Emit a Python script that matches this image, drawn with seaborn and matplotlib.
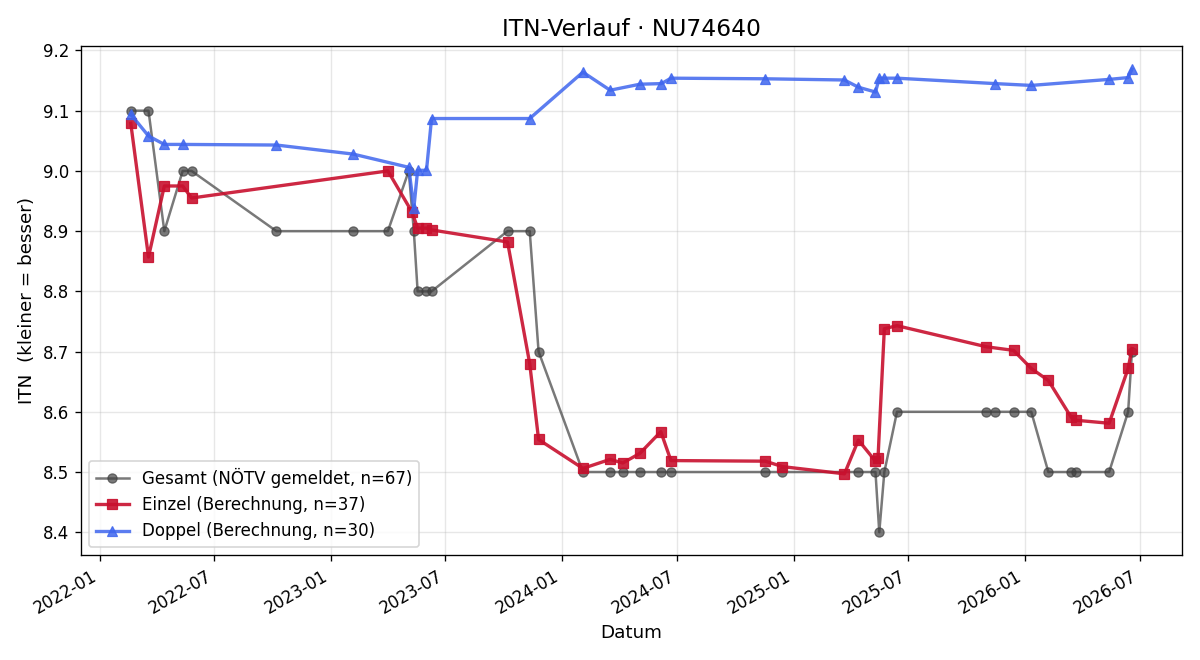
import pandas as pd
import seaborn as sns
import matplotlib.pyplot as plt
import matplotlib.dates as mdates

# Gesamt (NÖTV gemeldet)
gesamt_dates = ["2022-02-19", "2022-03-19", "2022-04-13", "2022-05-12", "2022-05-26",
                "2022-10-07", "2023-02-05", "2023-04-01", "2023-05-04", "2023-05-12",
                "2023-05-18", "2023-06-01", "2023-06-09", "2023-10-07", "2023-11-11",
                "2023-11-25", "2024-02-03", "2024-03-17", "2024-04-06", "2024-05-03",
                "2024-06-06", "2024-06-21", "2024-11-17", "2024-12-14", "2025-04-13",
                "2025-05-10", "2025-05-16", "2025-05-24", "2025-06-13", "2025-11-01",
                "2025-11-15", "2025-12-14", "2026-01-11", "2026-02-07", "2026-03-15",
                "2026-03-22", "2026-05-14", "2026-06-13", "2026-06-19"]
gesamt_itn = [9.1, 9.1, 8.9, 9.0, 9.0,
              8.9, 8.9, 8.9, 9.0, 8.9,
              8.8, 8.8, 8.8, 8.9, 8.9,
              8.7, 8.5, 8.5, 8.5, 8.5,
              8.5, 8.5, 8.5, 8.5, 8.5,
              8.5, 8.4, 8.5, 8.6, 8.6,
              8.6, 8.6, 8.6, 8.5, 8.5,
              8.5, 8.5, 8.6, 8.7]

# Einzel (Berechnung)
einzel_dates = ["2022-02-19", "2022-03-19", "2022-04-13", "2022-05-12", "2022-05-26",
                "2023-04-01", "2023-05-09", "2023-05-18", "2023-06-01", "2023-06-09",
                "2023-10-07", "2023-11-11", "2023-11-25", "2024-02-03", "2024-03-17",
                "2024-04-06", "2024-05-03", "2024-06-05", "2024-06-21", "2024-11-17",
                "2024-12-14", "2025-03-22", "2025-04-13", "2025-05-10", "2025-05-14",
                "2025-05-24", "2025-06-13", "2025-11-01", "2025-12-14", "2026-01-11",
                "2026-02-07", "2026-03-15", "2026-03-22", "2026-05-14", "2026-06-13",
                "2026-06-19"]
einzel_itn = [9.079, 8.857, 8.975, 8.975, 8.955,
              9.000, 8.932, 8.905, 8.905, 8.902,
              8.882, 8.680, 8.554, 8.506, 8.521,
              8.515, 8.531, 8.567, 8.519, 8.518,
              8.509, 8.497, 8.553, 8.518, 8.523,
              8.738, 8.743, 8.708, 8.702, 8.672,
              8.652, 8.591, 8.586, 8.581, 8.672,
              8.705]

# Doppel (Berechnung)
doppel_dates = ["2022-02-19", "2022-03-19", "2022-04-13", "2022-05-12", "2022-10-07",
                "2023-02-05", "2023-05-04", "2023-05-12", "2023-05-18", "2023-06-01",
                "2023-06-09", "2023-11-11", "2024-02-03", "2024-03-17", "2024-05-03",
                "2024-06-06", "2024-06-21", "2024-11-17", "2025-03-22", "2025-04-13",
                "2025-05-10", "2025-05-16", "2025-05-24", "2025-06-13", "2025-11-15",
                "2026-01-11", "2026-05-14", "2026-06-13", "2026-06-19"]
doppel_itn = [9.094, 9.058, 9.044, 9.044, 9.043,
              9.028, 9.006, 8.938, 9.001, 9.001,
              9.087, 9.087, 9.164, 9.134, 9.144,
              9.145, 9.154, 9.153, 9.151, 9.139,
              9.131, 9.154, 9.154, 9.154, 9.145,
              9.142, 9.152, 9.155, 9.169]

fig, ax = plt.subplots(figsize=(10, 5.5), dpi=120)

sns.lineplot(x=pd.to_datetime(gesamt_dates), y=gesamt_itn, ax=ax, estimator=None,
             color="#404040", alpha=0.7, linewidth=1.5, marker="o", markersize=5.5,
             markeredgecolor="#404040", label="Gesamt (NÖTV gemeldet, n=67)")
sns.lineplot(x=pd.to_datetime(einzel_dates), y=einzel_itn, ax=ax, estimator=None,
             color="#c8102e", alpha=0.9, linewidth=2, marker="s", markersize=6.5,
             markeredgecolor="#c8102e", label="Einzel (Berechnung, n=37)")
sns.lineplot(x=pd.to_datetime(doppel_dates), y=doppel_itn, ax=ax, estimator=None,
             color="#3f66ee", alpha=0.85, linewidth=2, marker="^", markersize=6.5,
             markeredgecolor="#3f66ee", label="Doppel (Berechnung, n=30)")

ax.set_title("ITN-Verlauf · NU74640", fontsize=14)
ax.set_xlabel("Datum", fontsize=11)
ax.set_ylabel("ITN  (kleiner = besser)", fontsize=11)
ax.grid(True, alpha=0.3)
ax.xaxis.set_major_locator(mdates.MonthLocator(bymonth=[1, 7]))
ax.xaxis.set_major_formatter(mdates.DateFormatter("%Y-%m"))
ax.legend(loc="lower left", fontsize=10)
fig.autofmt_xdate()
plt.tight_layout()
plt.savefig("out.png")
